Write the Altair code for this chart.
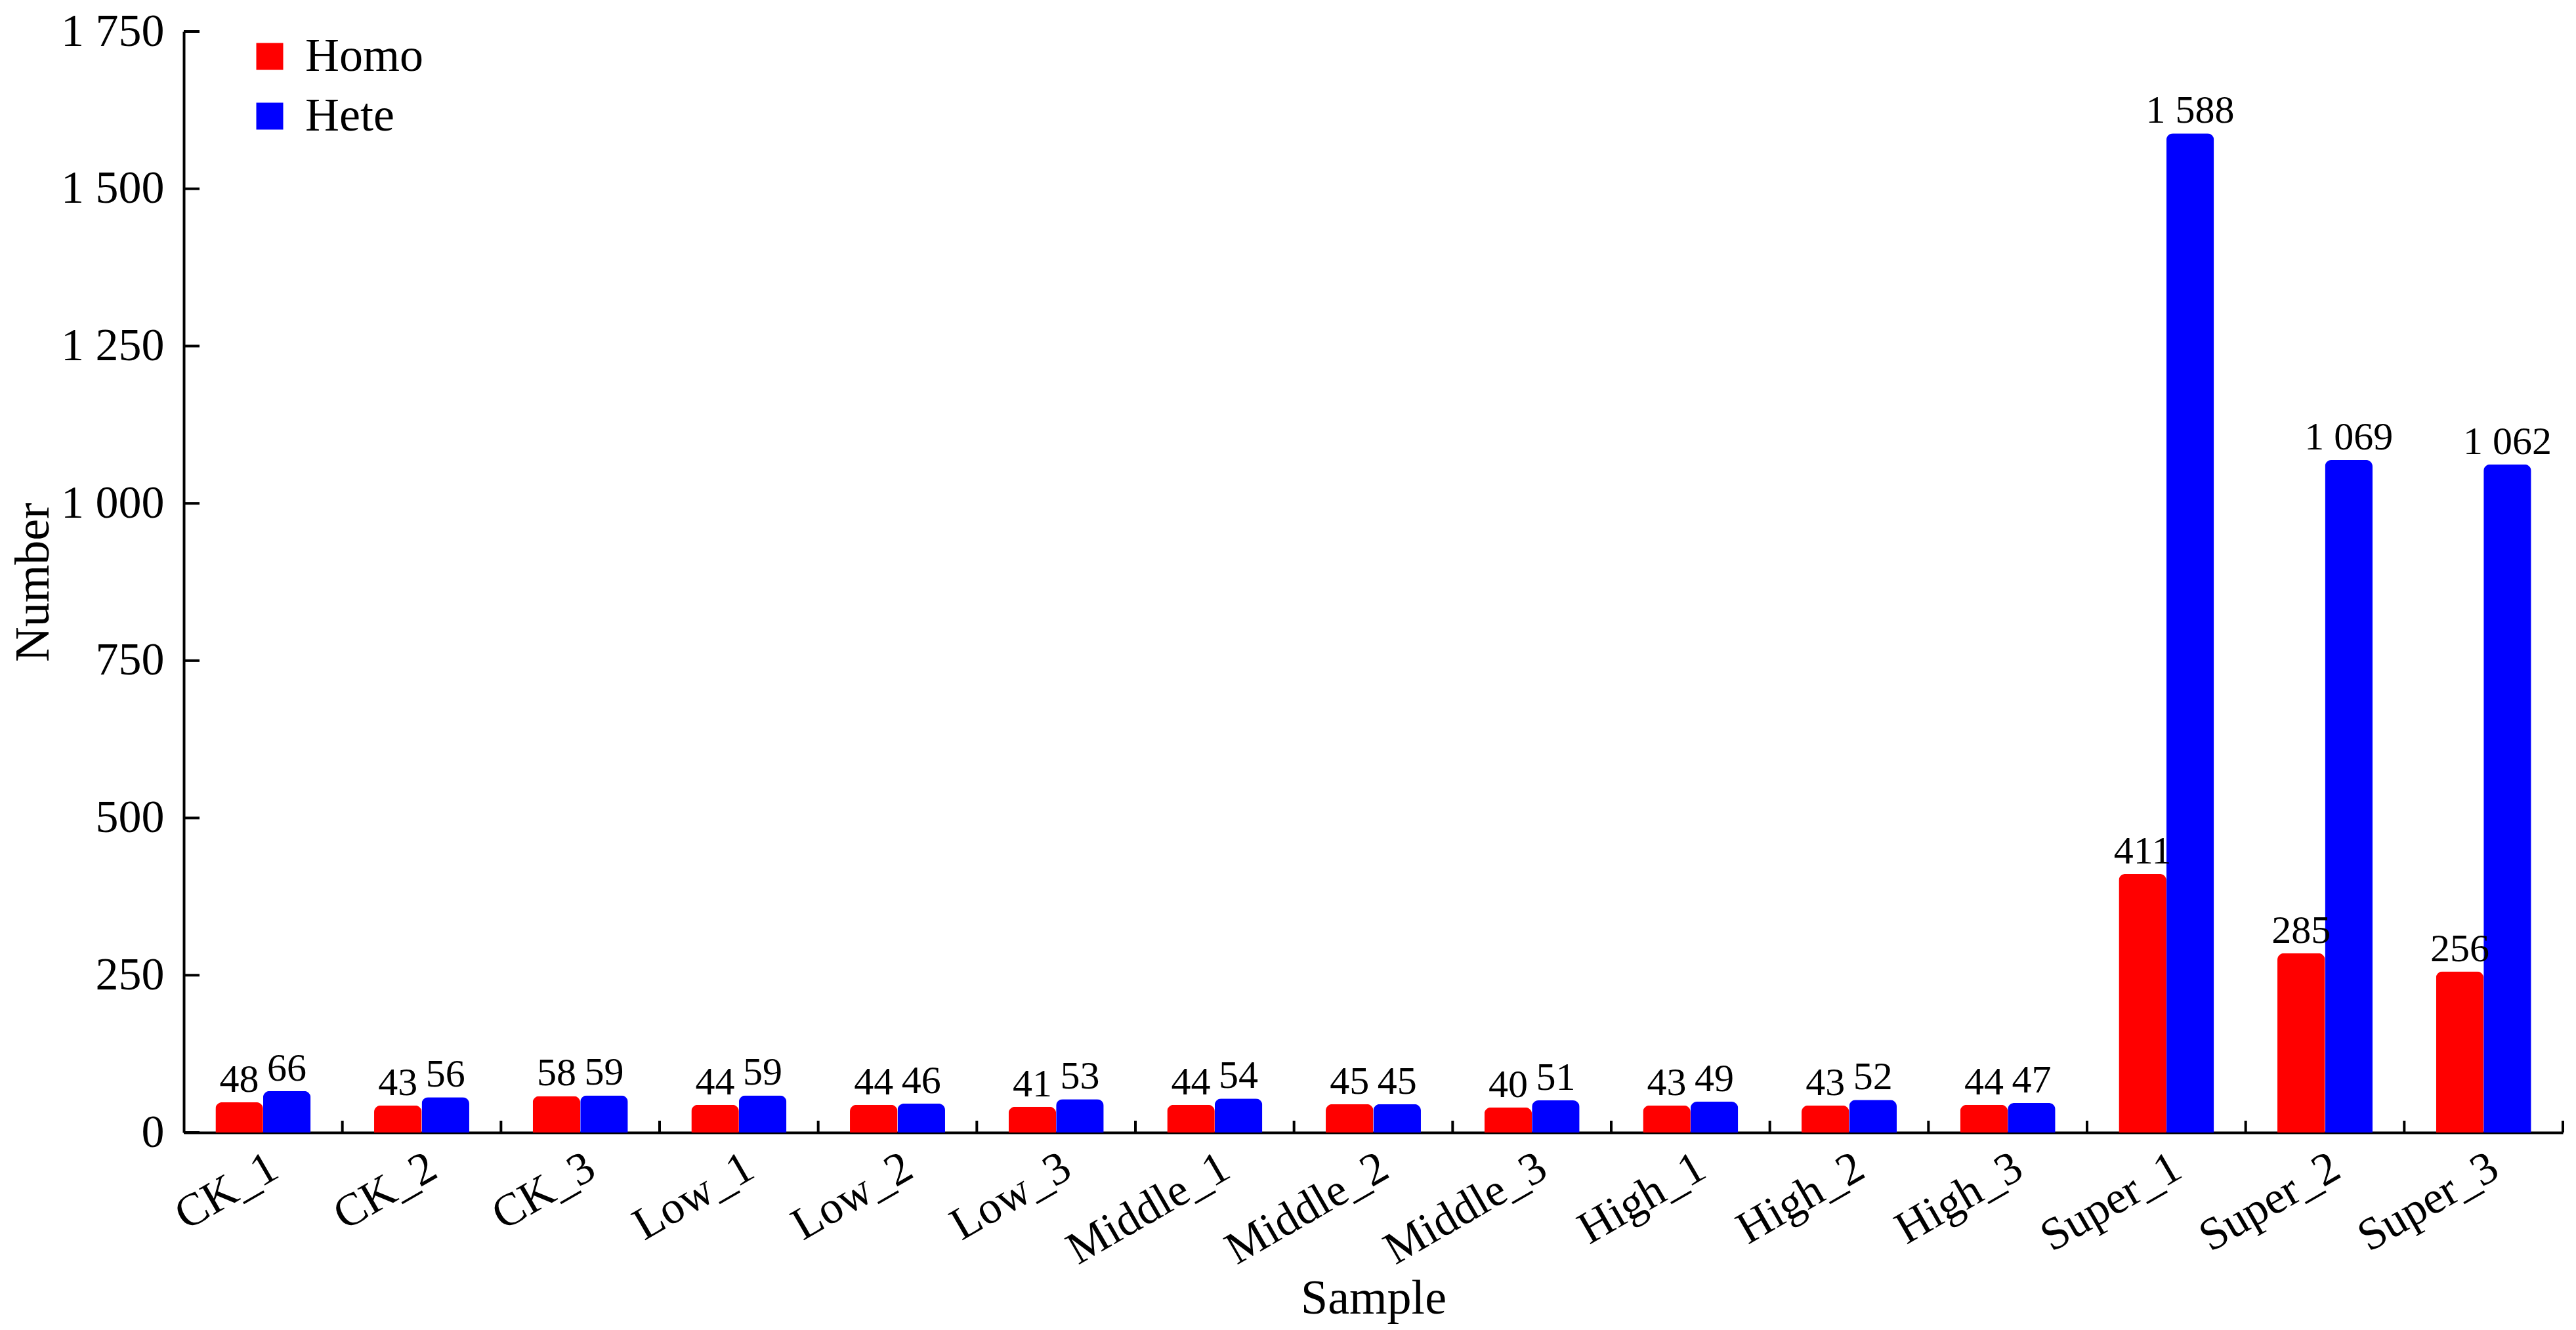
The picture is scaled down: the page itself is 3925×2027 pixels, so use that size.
import altair as alt
import pandas as pd

samples = ["CK_1", "CK_2", "CK_3", "Low_1", "Low_2", "Low_3", "Middle_1", "Middle_2",
           "Middle_3", "High_1", "High_2", "High_3", "Super_1", "Super_2", "Super_3"]
homo = [48, 43, 58, 44, 44, 41, 44, 45, 40, 43, 43, 44, 411, 285, 256]
hete = [66, 56, 59, 59, 46, 53, 54, 45, 51, 49, 52, 47, 1588, 1069, 1062]
types = ["Homo", "Hete"]
colors = ["#FF0000", "#0000FF"]
yticks = [0, 250, 500, 750, 1000, 1250, 1500, 1750]

rows = []
for s, a, b in zip(samples, homo, hete):
    rows.append({"Sample": s, "Type": "Homo", "Number": a, "Label": f"{a:,}".replace(",", " ")})
    rows.append({"Sample": s, "Type": "Hete", "Number": b, "Label": f"{b:,}".replace(",", " ")})
df = pd.DataFrame(rows)
tick_df = pd.DataFrame({"Number": yticks})
samp_df = pd.DataFrame({"Sample": samples})

W, H = 3625, 1678
FONT = "Liberation Serif"

xscale = alt.Scale(domain=samples, paddingInner=0, paddingOuter=0)
yscale = alt.Scale(domain=[0, 1750], nice=False)

x_enc = alt.X("Sample:N", scale=xscale, sort=samples,
              axis=alt.Axis(title="Sample", labelAngle=330, labelFontSize=70, labelFont=FONT,
                            labelColor="black", labelPadding=18, labelLimit=0, ticks=False,
                            domainColor="black", domainWidth=4,
                            titleFont=FONT, titleFontSize=74, titleFontWeight="normal",
                            titleColor="black", titleX=W / 2, titleY=275,
                            titleBaseline="alphabetic"))
y_enc = alt.Y("Number:Q", scale=yscale,
              axis=alt.Axis(title="Number", values=yticks, ticks=False, grid=False,
                            labelExpr="replace(format(datum.value, ','), ',', ' ')",
                            labelFontSize=70, labelFont=FONT, labelColor="black",
                            labelPadding=30, labelLimit=0, domainColor="black", domainWidth=4,
                            titleFont=FONT, titleFontSize=74, titleFontWeight="normal",
                            titleColor="black", titleX=-207, titleY=H / 2,
                            titleBaseline="alphabetic", titleAngle=270))
xoff = alt.XOffset("Type:N", sort=types, scale=alt.Scale(paddingInner=0, paddingOuter=0.667))

bars = alt.Chart(df).mark_bar(cornerRadiusTopLeft=10, cornerRadiusTopRight=10).encode(
    x=x_enc,
    xOffset=xoff,
    y=y_enc,
    color=alt.Color("Type:N", sort=types, scale=alt.Scale(domain=types, range=colors),
                    legend=alt.Legend(title=None, orient="none", legendX=95, legendY=2,
                                      symbolType="square", symbolSize=1681, symbolStrokeWidth=0,
                                      labelFont=FONT, labelFontSize=72, labelColor="black",
                                      labelOffset=18, labelLimit=0, rowPadding=19, padding=0)),
)

labels = alt.Chart(df).mark_text(font=FONT, fontSize=60, color="black", dy=-16,
                                 baseline="alphabetic").encode(
    x=alt.X("Sample:N", scale=xscale, sort=samples),
    xOffset=xoff,
    y=alt.Y("Number:Q", scale=yscale),
    text="Label:N",
)

ytick_rules = alt.Chart(tick_df).mark_rule(color="black", strokeWidth=4).encode(
    y=alt.Y("Number:Q", scale=yscale),
    x=alt.value(0),
    x2=alt.value(24),
)

xtick_rules = alt.Chart(samp_df).mark_rule(color="black", strokeWidth=4).encode(
    x=alt.X("Sample:N", scale=xscale, sort=samples, bandPosition=1),
    y=alt.value(H - 18),
    y2=alt.value(H),
)

chart = alt.layer(bars, labels, ytick_rules, xtick_rules).properties(
    width=W, height=H,
    autosize=alt.AutoSizeParams(type="none"),
    padding={"left": 272, "top": 40, "right": 12, "bottom": 296},
    background="white",
).configure_view(stroke=None)

chart.save("out.html", embed_options={"renderer": "svg", "actions": False})
